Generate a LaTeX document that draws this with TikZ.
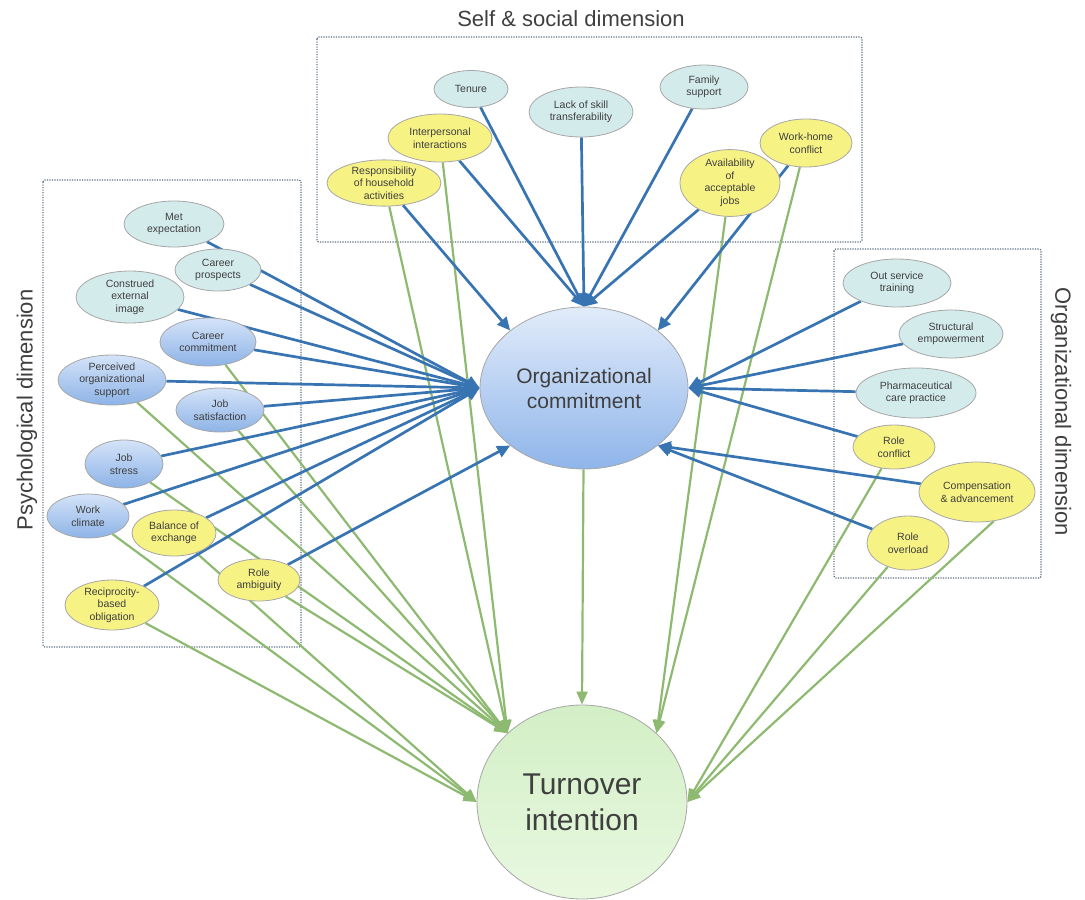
\documentclass[tikz,border=0pt]{standalone}
\usepackage{fontspec}
\setmainfont{Liberation Sans}
\usetikzlibrary{shapes.geometric,arrows.meta}

\definecolor{txt}{HTML}{3F3F3F}
\definecolor{edgeblue}{RGB}{56,116,178}
\definecolor{edgegreen}{RGB}{141,186,112}
\definecolor{tealfill}{HTML}{D4EBEC}
\definecolor{yellowfill}{HTML}{F7F284}
\definecolor{bluetop}{HTML}{D4E3F8}
\definecolor{bluebot}{HTML}{8DB3E7}
\definecolor{octop}{HTML}{E2ECFA}
\definecolor{ocbot}{HTML}{8FB5EA}
\definecolor{titop}{HTML}{D3EFC6}
\definecolor{tibot}{HTML}{E8F8E0}
\definecolor{nodeborder}{HTML}{A6A6A6}
\definecolor{boxline}{HTML}{5B6D80}

\pgfdeclarelayer{boxes}
\pgfdeclarelayer{edges}
\pgfsetlayers{boxes,edges,main}

\tikzset{
  factor/.style={ellipse, draw=nodeborder, line width=0.8pt, inner sep=0pt,
    align=center, font=\fontsize{10.5}{12.5}\selectfont, text=txt},
  tealnode/.style={factor, fill=tealfill},
  yellownode/.style={factor, fill=yellowfill},
  bluenode/.style={factor, top color=bluetop, bottom color=bluebot},
  sz/.style 2 args={minimum width=#1pt, minimum height=#2pt},
  toOC/.style={draw=edgeblue, line width=2.7pt, -{Triangle[length=13pt,width=12pt]}},
  toTI/.style={draw=edgegreen, line width=2.2pt, -{Triangle[length=13pt,width=11pt]}},
  dimbox/.style={draw=boxline, line width=1.2pt, dash pattern=on 1.2pt off 1.3pt, rounded corners=2pt},
  dimlabel/.style={font=\fontsize{22}{26}\selectfont, text=txt},
}

\begin{document}
\begin{tikzpicture}[x=1pt, y=-1pt]
\useasboundingbox (0,0) rectangle (1085,900);

% dimension frames
\begin{pgfonlayer}{boxes}
  \draw[dimbox] (317,37) rectangle (862,242);
  \draw[dimbox] (43,180) rectangle (301,647);
  \draw[dimbox] (834,249) rectangle (1041,578);
\end{pgfonlayer}

% dimension titles
\node[dimlabel] (selftitle) at (571,19) {Self \& social dimension};
\node[dimlabel, rotate=90] (psychtitle) at (27,410) {Psychological dimension};
\node[dimlabel, rotate=-90] (orgtitle) at (1061,412) {Organizational dimension};

% outcomes
\node[ellipse, draw=nodeborder, line width=0.8pt, top color=octop, bottom color=ocbot,
  minimum width=208pt, minimum height=162pt, inner sep=0pt, align=center,
  font=\fontsize{21}{25}\selectfont, text=txt] (oc) at (584,388) {Organizational\\commitment};
\node[ellipse, draw=nodeborder, line width=0.8pt, top color=titop, bottom color=tibot,
  minimum width=210pt, minimum height=194pt, inner sep=0pt, align=center,
  font=\fontsize{30}{36}\selectfont, text=txt] (ti) at (582,802) {Turnover\\intention};

% self & social factors
\node[tealnode, sz={74}{37}] (tenure) at (471,89) {Tenure};
\node[tealnode, sz={104}{50}] (lack) at (581,112) {Lack of skill\\transferability};
\node[tealnode, sz={88}{44}] (family) at (704,87) {Family\\support};
\node[yellownode, sz={104}{48}] (interp) at (440,138) {Interpersonal\\interactions};
\node[yellownode, sz={114}{46}] (resp) at (384,183) {Responsibility\\of household\\activities};
\node[yellownode, sz={100}{66}] (avail) at (730,183) {Availability\\of\\acceptable\\jobs};
\node[yellownode, sz={92}{48}] (workhome) at (806,143) {Work-home\\conflict};

% psychological factors
\node[tealnode, sz={100}{46}] (met) at (174,224) {Met\\expectation};
\node[tealnode, sz={86}{42}] (prospects) at (218,270) {Career\\prospects};
\node[tealnode, sz={108}{52}] (construed) at (130,297) {Construed\\external\\image};
\node[bluenode, sz={96}{48}] (ccommit) at (208,342) {Career\\commitment};
\node[bluenode, sz={108}{50}] (pos) at (112,380) {Perceived\\organizational\\support};
\node[bluenode, sz={88}{44}] (jobsat) at (220,410) {Job\\satisfaction};
\node[bluenode, sz={78}{48}] (jobstress) at (124,464) {Job\\stress};
\node[bluenode, sz={82}{44}] (climate) at (88,516) {Work\\climate};
\node[yellownode, sz={84}{46}] (balance) at (174,533) {Balance of\\exchange};
\node[yellownode, sz={82}{42}] (ambiguity) at (259,580) {Role\\ambiguity};
\node[yellownode, sz={94}{50}] (recip) at (112,605) {Reciprocity-\\based\\obligation};

% organizational factors
\node[tealnode, sz={108}{48}] (outservice) at (897,283) {Out service\\training};
\node[tealnode, sz={104}{48}] (structural) at (951,334) {Structural\\empowerment};
\node[tealnode, sz={120}{50}] (pharma) at (916,393) {Pharmaceutical\\care practice};
\node[yellownode, sz={82}{44}] (roleconflict) at (894,447) {Role\\conflict};
\node[yellownode, sz={116}{60}] (comp) at (977,492) {Compensation\\\& advancement};
\node[yellownode, sz={82}{54}] (overload) at (908,543) {Role\\overload};

\begin{pgfonlayer}{edges}
  % links to turnover intention
  \foreach \n in {resp,interp,ccommit,pos,jobsat,jobstress,ambiguity}
    \draw[toTI] (\n) -- (ti.north west);
  \foreach \n in {climate,balance,recip}
    \draw[toTI] (\n) -- (ti.west);
  \foreach \n in {avail,workhome}
    \draw[toTI] (\n) -- (ti.north east);
  \foreach \n in {roleconflict,overload}
    \draw[toTI] (\n) -- (ti.east);
  \draw[toTI] (comp.-60) -- (ti.east);
  \draw[toTI] (oc) -- (ti.north);

  % links to organizational commitment
  \foreach \n in {met,prospects,construed,ccommit,pos,jobsat,jobstress,climate,balance,recip}
    \draw[toOC] (\n) -- (oc.west);
  \draw[toOC] (ambiguity) -- (oc.south west);
  \draw[toOC] (resp) -- (oc.north west);
  \foreach \n in {tenure,lack,family,interp,avail}
    \draw[toOC] (\n) -- (oc.north);
  \draw[toOC] (workhome) -- (oc.north east);
  \foreach \n in {outservice,structural,pharma,roleconflict}
    \draw[toOC] (\n) -- (oc.east);
  \foreach \n in {comp,overload}
    \draw[toOC] (\n) -- (oc.south east);
\end{pgfonlayer}
\end{tikzpicture}
\end{document}
